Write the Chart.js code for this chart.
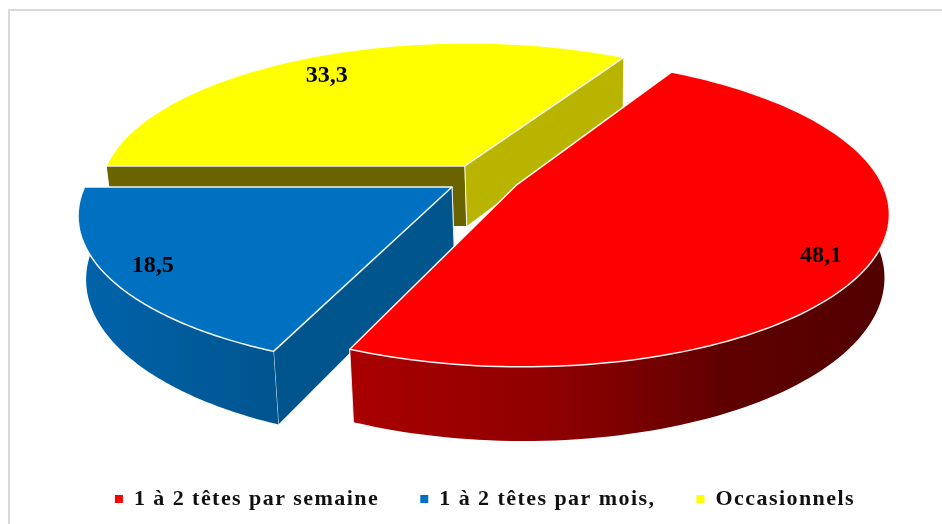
<!DOCTYPE html>
<html lang="fr">
<head>
<meta charset="utf-8">
<style>html,body{margin:0;padding:0;background:#fff}canvas{display:block}</style>
<script src="https://cdn.jsdelivr.net/npm/chart.js@4"></script>
</head>
<body>
<canvas id="c" width="942" height="524"></canvas>
<script>
const categories = ['1 à 2 têtes par semaine', '1 à 2 têtes par mois,', 'Occasionnels'];
const values = [48.1, 18.5, 33.3];
const topColors = ['#ff0000', '#0070c0', '#ffff00'];
const outerWallStops = [
  [[0, '#aa0000'], [0.4, '#8c0000'], [0.7, '#5f0000'], [1, '#520000']],
  [[0, '#0063ab'], [1, '#00558f']],
  [[0, '#b8b400'], [1, '#b8b400']]
];
const endWallColors = ['#8c0000', '#00558c', '#b8b400'];
const startWallColors = ['#8c0000', '#00558c', '#6a6400'];
const labelFractions = [0.87, 0.88, 0.86];
const labelNudges = [[-3, 7], [-2, -1], [-3, 5]];

// Oblique perspective used to view the flat pie
const view = {X0: 483, Y0: 178.7, a: 364, b: 148, p: 0.17, depth: 61, shrink: 0.984, shrinkX: 580};
function project(u, v, low) {
  const w = 1 - view.p * v;
  let X = view.X0 + view.a * u / w;
  let Y = view.Y0 + view.b * v / w;
  if (low) { X = view.shrinkX + (X - view.shrinkX) * view.shrink; Y += view.depth / w; }
  return [X, Y];
}
function trace(ctx, pts) {
  pts.forEach((p, i) => i ? ctx.lineTo(p[0], p[1]) : ctx.moveTo(p[0], p[1]));
}
function sliceGeom(el) {
  const g = el.getProps(['startAngle', 'endAngle', 'outerRadius']);
  const mid = (g.startAngle + g.endAngle) / 2;
  const shift = (el.options.offset / 4) / g.outerRadius;
  const ox = Math.cos(mid) * shift, oy = Math.sin(mid) * shift;
  return {start: g.startAngle, end: g.endAngle, mid, ox, oy};
}
const pie3d = {
  id: 'pie3d',
  beforeLayout(chart) { chart.ctx.letterSpacing = '1.45px'; },
  beforeDraw(chart) {
    const ctx = chart.ctx;
    ctx.letterSpacing = '1.45px';
    ctx.save();
    ctx.strokeStyle = '#d9d9d9';
    ctx.lineWidth = 2;
    ctx.beginPath();
    ctx.moveTo(9, 524); ctx.lineTo(9, 10); ctx.lineTo(942, 10);
    ctx.stroke();
    ctx.restore();
  },
  beforeDatasetDraw(chart) {
    const ctx = chart.ctx;
    const arcs = chart.getDatasetMeta(0).data;
    ctx.save();
    ctx.lineJoin = 'round';
    for (let i = arcs.length - 1; i >= 0; i--) {
      const s = sliceGeom(arcs[i]);
      const n = 120, top = [], low = [], sins = [];
      for (let k = 0; k <= n; k++) {
        const a = s.start + (s.end - s.start) * k / n;
        const u = s.ox + Math.cos(a), v = s.oy + Math.sin(a);
        top.push(project(u, v, false));
        low.push(project(u, v, true));
        sins.push(Math.sin(a));
      }
      const apexT = project(s.ox, s.oy, false), apexL = project(s.ox, s.oy, true);

      // radial walls
      const wall = (edge, edgeLow, col) => {
        ctx.fillStyle = col;
        ctx.beginPath();
        trace(ctx, [apexT, edge, edgeLow, apexL]);
        ctx.closePath();
        ctx.fill();
        ctx.strokeStyle = 'rgba(255,255,255,0.85)';
        ctx.lineWidth = 1;
        ctx.beginPath();
        trace(ctx, [edgeLow, edge]);
        ctx.moveTo(apexT[0], apexT[1]); ctx.lineTo(apexL[0], apexL[1]);
        ctx.stroke();
      };
      wall(top[0], low[0], startWallColors[i]);
      wall(top[n], low[n], endWallColors[i]);

      // outer wall: only the part that faces the viewer
      if (sins.some(v => v > 0.02)) {
        const keep = top.map((p, k) => k).filter(k => sins[k] >= -0.2);
        const frontTop = keep.map(k => top[k]), frontLow = keep.map(k => low[k]);
        const fx = frontTop.map(p => p[0]);
        const grad = ctx.createLinearGradient(Math.min(...fx), 0, Math.max(...fx), 0);
        outerWallStops[i].forEach(st => grad.addColorStop(st[0], st[1]));
        ctx.fillStyle = grad;
        ctx.beginPath();
        trace(ctx, frontTop.concat(frontLow.slice().reverse()));
        ctx.closePath();
        ctx.fill();
        ctx.strokeStyle = 'rgba(255,255,255,0.85)';
        ctx.lineWidth = 1;
        ctx.beginPath();
        trace(ctx, [low[n], top[n]]);
        ctx.stroke();
      }

      // top face
      ctx.fillStyle = topColors[i];
      ctx.beginPath();
      trace(ctx, [apexT].concat(top));
      ctx.closePath();
      ctx.fill();
      ctx.strokeStyle = 'rgba(255,255,255,0.95)';
      ctx.lineWidth = 1.5;
      ctx.stroke();
    }
    // value labels
    ctx.fillStyle = '#000';
    ctx.font = 'bold 24px "Liberation Serif", serif';
    ctx.textAlign = 'center';
    ctx.textBaseline = 'middle';
    ctx.letterSpacing = '0px';
    arcs.forEach((el, i) => {
      const s = sliceGeom(el);
      const f = labelFractions[i];
      const p = project(s.ox + Math.cos(s.mid) * f, s.oy + Math.sin(s.mid) * f, false);
      ctx.fillText(String(values[i]).replace('.', ','), p[0] + labelNudges[i][0], p[1] + labelNudges[i][1]);
    });
    ctx.restore();
    return false;
  }
};
new Chart(document.getElementById('c'), {
  type: 'pie',
  data: {
    labels: categories,
    datasets: [{data: values, backgroundColor: topColors, borderWidth: 0, offset: 75}]
  },
  options: {
    responsive: false,
    animation: false,
    rotation: 30,
    layout: {padding: {bottom: 4, left: 28}},
    plugins: {
      tooltip: {enabled: false},
      legend: {
        position: 'bottom',
        labels: {
          font: {family: '"Liberation Serif", serif', size: 22, weight: 'bold'},
          color: '#111',
          boxWidth: 8,
          boxHeight: 8,
          padding: 41
        }
      }
    }
  },
  plugins: [pie3d]
});
</script>
</body>
</html>
